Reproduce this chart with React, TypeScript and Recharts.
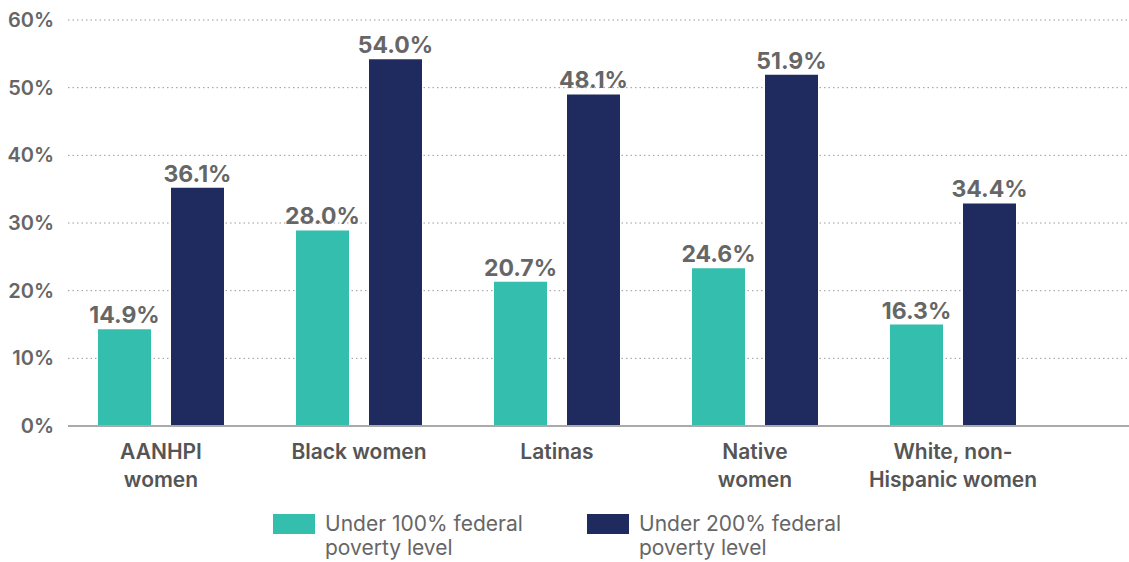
import React from "react";
import { BarChart, Bar, XAxis, YAxis, CartesianGrid, Legend, LabelList } from "recharts";

const categories = ["AANHPI\nwomen", "Black women", "Latinas", "Native\nwomen", "White, non-\nHispanic women"];
const under100Bars = [14.3, 28.9, 21.3, 23.3, 15.0];
const under200Bars = [35.2, 54.2, 49.0, 51.9, 32.9];
const under100Labels = ["14.9%", "28.0%", "20.7%", "24.6%", "16.3%"];
const under200Labels = ["36.1%", "54.0%", "48.1%", "51.9%", "34.4%"];
const yTicks = [0, 10, 20, 30, 40, 50, 60];
const seriesNames = ["Under 100% federal\npoverty level", "Under 200% federal\npoverty level"];

const TEAL = "#34BEAD";
const NAVY = "#1F2B5F";
const FONT = "Inter, 'Noto Sans', sans-serif";

const data = categories.map((c, i) => ({
  name: c,
  u100: under100Bars[i],
  u200: under200Bars[i],
  l100: under100Labels[i],
  l200: under200Labels[i],
}));

const CategoryTick = (props: any) => {
  const { x, y, payload } = props;
  const lines = String(payload.value).split("\n");
  return (
    <g transform={`translate(${x},${y})`}>
      <text textAnchor="middle" fill="#555" fontSize={21} fontWeight={600} fontFamily={FONT}>
        {lines.map((l, i) => (
          <tspan key={i} x={0} y={25 + i * 27.5}>{l}</tspan>
        ))}
      </text>
    </g>
  );
};

const LegendContent = () => {
  const colors = [TEAL, NAVY];
  const lefts = [273, 587];
  return (
    <div style={{ position: "relative", width: 1129, height: 66 }}>
      {seriesNames.map((n, i) => (
        <div key={i}>
          <div style={{ position: "absolute", left: lefts[i], top: 18, width: 42, height: 20, background: colors[i] }} />
          <div style={{ position: "absolute", left: lefts[i] + 52, top: 16, fontFamily: FONT, fontSize: 21, lineHeight: "24px", color: "#666", whiteSpace: "pre", textAlign: "left" }}>
            {n}
          </div>
        </div>
      ))}
    </div>
  );
};

export default function App() {
  return (
    <div style={{ position: "absolute", left: 0, top: 0, background: "#fff" }}>
      <BarChart
        width={1129}
        height={562}
        data={data}
        margin={{ top: 20, right: 0, left: 0, bottom: 0 }}
        barGap={20}
        barSize={53}
      >
        <CartesianGrid vertical={false} stroke="#999" strokeDasharray="1.5 3" />
        <XAxis
          dataKey="name"
          interval={0}
          height={70}
          tickLine={false}
          axisLine={{ stroke: "#aaa", strokeWidth: 2 }}
          tick={<CategoryTick />}
          padding={{ left: -6, right: 77 }}
        />
        <YAxis
          width={68}
          domain={[0, 60]}
          ticks={yTicks}
          axisLine={false}
          tickLine={false}
          tickSize={6}
          tickMargin={8}
          tickFormatter={(v: number) => `${v}%`}
          tick={{ fill: "#666", fontSize: 20, fontWeight: 600, fontFamily: FONT }}
        />
        <Legend verticalAlign="bottom" content={<LegendContent />} />
        <Bar dataKey="u100" fill={TEAL} isAnimationActive={false}>
          <LabelList dataKey="l100" position="top" offset={6} fill="#666" fontSize={23} fontWeight={700} fontFamily={FONT} />
        </Bar>
        <Bar dataKey="u200" fill={NAVY} isAnimationActive={false}>
          <LabelList dataKey="l200" position="top" offset={6} fill="#666" fontSize={23} fontWeight={700} fontFamily={FONT} />
        </Bar>
      </BarChart>
    </div>
  );
}
